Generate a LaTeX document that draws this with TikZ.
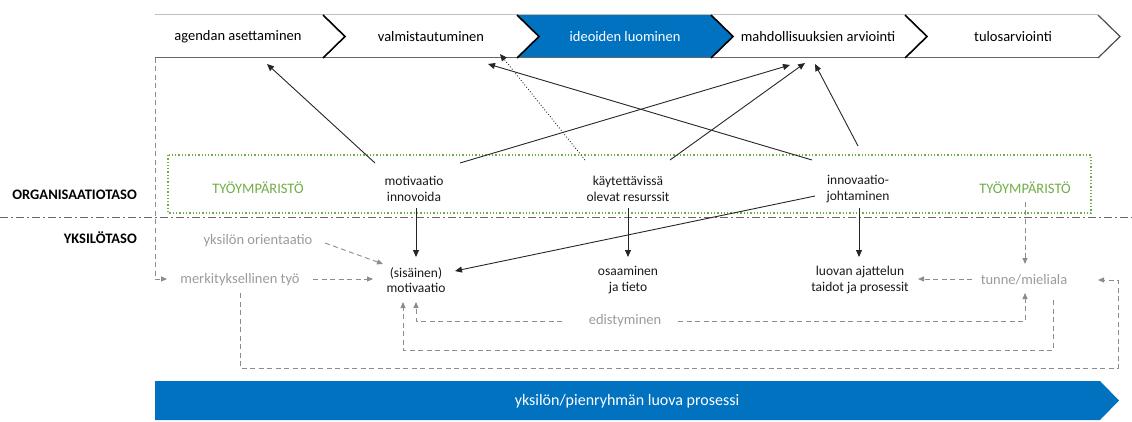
\documentclass[tikz,border=0pt]{standalone}
\usepackage{fontspec}
\setmainfont{Carlito}
\usetikzlibrary{arrows.meta}
\definecolor{oblue}{RGB}{0,114,192}
\definecolor{ogreen}{RGB}{112,173,71}
\definecolor{gtext}{RGB}{155,155,155}
\definecolor{gline}{RGB}{140,140,140}
\begin{document}
\begin{tikzpicture}[x=1pt,y=-1pt,
  chevtxt/.style={font=\fontsize{14.5}{16}\selectfont, inner sep=0pt},
  lvl/.style={font=\bfseries\fontsize{14.5}{16}\selectfont, anchor=east, inner sep=0pt},
  blk/.style={font=\fontsize{13.5}{15.5}\selectfont, align=center, inner sep=0pt, text=black!90},
  gry/.style={font=\fontsize{14.5}{16}\selectfont, inner sep=0pt, text=gtext},
  grn/.style={font=\fontsize{14.5}{16}\selectfont, inner sep=0pt, text=ogreen},
  arr/.style={draw=black!85, line width=0.9pt, -{Triangle[length=7pt,width=6pt]}},
  darr/.style={arr, dotted},
  garr/.style={draw=gline, line width=0.9pt, dash pattern=on 5pt off 3.5pt, -{Triangle[length=6pt,width=5pt]}},
]
\useasboundingbox (0,0) rectangle (1132,422);

% top chevron bar
\fill[oblue] (517,15) -- (711,15) -- (733,36.5) -- (711,58) -- (517,58) -- (539,36.5) -- cycle;
\draw[gray!50, line width=1pt] (155,15) -- (1098,15);
\draw[gray!80!black, line width=1pt] (155,58) -- (1098,58);
\foreach \b in {323,517,711,905} \draw[black, line width=1.6pt] (\b,15) -- (\b+22,36.5) -- (\b,58);
\draw[black!70, line width=1.2pt] (1098,15) -- (1120,36.5) -- (1098,58);

\node[chevtxt] (c1) at (238,37) {agendan asettaminen};
\node[chevtxt] (c2) at (431,37) {valmistautuminen};
\node[chevtxt,text=white] (c3) at (625,37) {ideoiden luominen};
\node[chevtxt] (c4) at (818,37) {mahdollisuuksien arviointi};
\node[chevtxt] (c5) at (1013,37) {tulosarviointi};

% levels
\node[lvl] (org) at (137,195) {ORGANISAATIOTASO};
\node[lvl] (yks) at (137,238) {YKSILÖTASO};
\draw[black!60, line width=1pt, dash pattern=on 8pt off 3pt on 2pt off 3pt] (0,218) -- (1132,218);

% work environment box
\draw[ogreen, line width=1.3pt, dotted] (168,155) rectangle (1091,213);
\node[grn] (ty1) at (258,188) {TYÖYMPÄRISTÖ};
\node[grn] (ty2) at (1025,188) {TYÖYMPÄRISTÖ};

% organisation level nodes
\node[blk] (mi) at (414,189) {motivaatio\\innovoida};
\node[blk] (kr) at (628,189) {käytettävissä\\olevat resurssit};
\node[blk] (ij) at (858,189) {innovaatio-\\johtaminen};

% individual level nodes
\node[gry] (yo) at (258,241) {yksilön orientaatio};
\node[gry] (mt) at (240,280) {merkityksellinen työ};
\node[blk] (sm) at (416,280) {(sisäinen)\\motivaatio};
\node[blk] (ot) at (628,280) {osaaminen\\ja tieto};
\node[blk] (la) at (860,280) {luovan ajattelun\\taidot ja prosessit};
\node[gry] (tm) at (1024,280) {tunne/mieliala};
\node[gry] (ed) at (625,321) {edistyminen};

% connector end points
\coordinate (miA) at (375,163); \coordinate (tAg) at (267,64);
\coordinate (miB) at (460,163); \coordinate (tMa1) at (790,65);
\coordinate (krA) at (585,160); \coordinate (tVa1) at (500,54);
\coordinate (krB) at (670,160); \coordinate (tMa2) at (805,63);
\coordinate (ijA) at (812,160); \coordinate (tVa2) at (488,64);
\coordinate (ijB) at (858,146); \coordinate (tMa3) at (815,64);
\coordinate (ijC) at (815,196); \coordinate (smE) at (455,271);
\coordinate (miS) at (416,208); \coordinate (smN) at (416,257);
\coordinate (krS) at (628,208); \coordinate (otN) at (628,257);
\coordinate (ijS) at (859,208); \coordinate (laN) at (859,257);

\draw[arr] (miA) -- (tAg);
\draw[arr] (miB) -- (tMa1);
\draw[darr] (krA) -- (tVa1);
\draw[arr] (krB) -- (tMa2);
\draw[arr] (ijA) -- (tVa2);
\draw[arr] (ijB) -- (tMa3);
\draw[arr] (ijC) -- (smE);
\draw[arr] (miS) -- (smN);
\draw[arr] (krS) -- (otN);
\draw[arr] (ijS) -- (laN);

% gray dashed connectors
\coordinate (tyS) at (1025,202); \coordinate (tmN) at (1025,264);
\coordinate (yoE) at (325,243); \coordinate (smNW) at (383,264);
\coordinate (barL) at (155,58); \coordinate (mtW) at (167,279);
\coordinate (mtE) at (313,279); \coordinate (smW) at (373,279);
\coordinate (tmW) at (972,279); \coordinate (laE) at (918,279);
\coordinate (edW) at (562,321); \coordinate (smS1) at (416,302);
\coordinate (edE) at (678,321); \coordinate (tmS1) at (1025,293);
\coordinate (tmS2) at (1053,300); \coordinate (smS2) at (403,302);
\coordinate (mtS) at (240,293); \coordinate (tmE) at (1098,280);

\draw[garr] (tyS) -- (tmN);
\draw[garr] (yoE) -- (smNW);
\draw[garr] (barL) |- (mtW);
\draw[garr] (mtE) -- (smW);
\draw[garr] (tmW) -- (laE);
\draw[garr] (edW) -| (smS1);
\draw[garr] (edE) -| (tmS1);
\draw[garr] (tmS2) -- (1053,350) -| (smS2);
\draw[garr] (mtS) -- (240,368) -- (1118,368) |- (tmE);

% bottom process bar
\fill[oblue] (155,381) -- (1100,381) -- (1119,400.5) -- (1100,420) -- (155,420) -- cycle;
\node[font=\fontsize{16}{18}\selectfont, text=white, inner sep=0pt] (pb) at (627,401) {yksilön/pienryhmän luova prosessi};
\end{tikzpicture}
\end{document}
